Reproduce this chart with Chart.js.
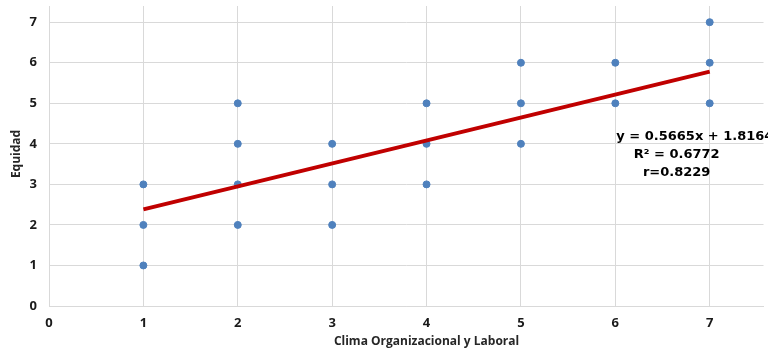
<!DOCTYPE html>
<html>
<head>
<meta charset="utf-8">
<script src="https://cdn.jsdelivr.net/npm/chart.js@4/dist/chart.umd.min.js"></script>
<style>
html,body{margin:0;padding:0;background:#fff;}
#wrap{width:768px;height:360px;}
</style>
</head>
<body>
<div id="wrap"><canvas id="c" width="768" height="360"></canvas></div>
<script>
// Data
const clima   = [1,1,1, 2,2,2,2, 3,3,3, 4,4,4, 5,5,5, 6,6, 7,7,7];
const equidad = [1,2,3, 2,3,4,5, 2,3,4, 3,4,5, 4,5,6, 5,6, 5,6,7];
const slope = 0.5665;
const intercept = 1.8164;
const trendX = [1, 7];
const xTicks = [0,1,2,3,4,5,6,7];
const yTicks = [0,1,2,3,4,5,6,7];
const eqLines = ['y = 0.5665x + 1.8164', 'R\u00B2 = 0.6772', 'r=0.8229'];
const xTitle = 'Clima Organizacional y Laboral';
const yTitle = 'Equidad';

const scatterData = clima.map((x,i)=>({x:x, y:equidad[i]}));
const trendData = trendX.map(x=>({x:x, y:slope*x+intercept}));

const textPlugin = {
  id:'texts',
  afterDraw(chart){
    const ctx = chart.ctx;
    const xs = chart.scales.x, ys = chart.scales.y;
    ctx.save();
    ctx.fillStyle = '#000';
    ctx.font = 'bold 13px "DejaVu Sans"';
    ctx.textBaseline = 'middle';
    const cx = xs.getPixelForValue(6.65);
    const cy0 = ys.getPixelForValue(4.18);
    eqLines.forEach((t,i)=>{
      if(i===0){ ctx.textAlign='left'; ctx.fillText(t, xs.getPixelForValue(6.0)+1, cy0); }
      else { ctx.textAlign='center'; ctx.fillText(t, cx, cy0 + i*18); }
    });
    ctx.textAlign = 'center';
    ctx.fillStyle = '#262626';
    ctx.font = 'bold 12px "Open Sans"';
    ctx.fillText(xTitle, xs.getPixelForValue(4.0), 342);
    ctx.translate(17, ys.getPixelForValue(3.75));
    ctx.rotate(-Math.PI/2);
    ctx.fillText(yTitle, 0, 0);
    ctx.restore();
  }
};

new Chart(document.getElementById('c'), {
  type:'scatter',
  data:{
    datasets:[
      {
        label:'Trend',
        type:'line',
        data:trendData,
        borderColor:'#C00000',
        borderWidth:4,
        pointRadius:0,
        fill:false,
        order:0
      },
      {
        label:'Equidad',
        data:scatterData,
        backgroundColor:'#4F81BD',
        borderColor:'#4F81BD',
        pointRadius:3.5,
        pointHoverRadius:3.5,
        order:1
      }
    ]
  },
  options:{
    responsive:false,
    animation:false,
    devicePixelRatio:1,
    layout:{padding:{top:6,right:0,left:0,bottom:0}},
    plugins:{legend:{display:false},tooltip:{enabled:false}},
    scales:{
      x:{
        type:'linear',
        min:0, max:7.57,
        afterFit(s){ s.height = 54; s.paddingLeft = 0; s.paddingRight = 0; },
        afterBuildTicks(s){ s.ticks = xTicks.map(v=>({value:v})); },
        grid:{color:'#D9D9D9', lineWidth:1, drawTicks:false},
        border:{display:true, color:'#D9D9D9', width:1},
        ticks:{
          color:'#1a1a1a',
          font:{family:'"Open Sans"', size:13, weight:'bold'},
          padding:9,
          maxRotation:0,
          callback:v=>String(v)
        }
      },
      y:{
        type:'linear',
        min:0, max:7.4,
        afterFit(s){ s.width = 49; s.paddingTop = 0; s.paddingBottom = 0; },
        afterBuildTicks(s){ s.ticks = yTicks.map(v=>({value:v})); },
        grid:{color:'#D9D9D9', lineWidth:1, drawTicks:false},
        border:{display:true, color:'#D9D9D9', width:1},
        ticks:{
          color:'#1a1a1a',
          font:{family:'"Open Sans"', size:13, weight:'bold'},
          padding:12,
          callback:v=>String(v)
        }
      }
    }
  },
  plugins:[textPlugin]
});
</script>
</body>
</html>
